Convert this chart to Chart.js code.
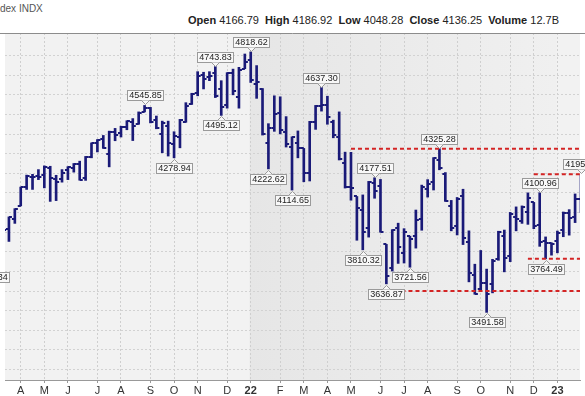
<!DOCTYPE html>
<html>
<head>
<meta charset="utf-8">
<title>S&amp;P 500 weekly bars</title>
<script src="https://cdn.jsdelivr.net/npm/chart.js@4.4.1/dist/chart.umd.min.js"></script>
<style>
  html, body { margin: 0; padding: 0; background: #fff; width: 585px; height: 396px; overflow: hidden;
               font-family: "Liberation Sans", Arial, sans-serif; }
  #title { position: absolute; left: 0; top: 3px; font-size: 10px; color: #555; }
  #quote { position: absolute; left: 188px; top: 14px; font-size: 11px; color: #222; white-space: nowrap; }
  #wrap  { position: absolute; left: 0; top: 28px; width: 585px; height: 368px; }
</style>
</head>
<body>
<div id="title">dex INDX</div>
<div id="quote"><b>Open</b> 4166.79&nbsp; <b>High</b> 4186.92&nbsp; <b>Low</b> 4048.28&nbsp; <b>Close</b> 4136.25&nbsp; <b>Volume</b> 12.7B</div>
<div id="wrap"><canvas id="chart" width="585" height="368"></canvas></div>

<script>
// -------------------------
// Data: weekly bars, week 0 = week of 1 Mar 2021
// -------------------------
const opens = [
    3842, 3844, 3942, 3916, 3969, 4034, 4128, 4179, 4185, 4192,
    4229, 4169, 4170, 4216, 4229, 4248, 4174, 4284, 4356, 4373,
    4297, 4409, 4407, 4437, 4462, 4450, 4514, 4535, 4474, 4402,
    4442, 4348, 4385, 4463, 4553, 4611, 4702, 4689, 4712, 4628,
    4548, 4710, 4588, 4733, 4778, 4655, 4632, 4357, 4432, 4505,
    4412, 4332, 4354, 4327, 4202, 4462, 4541, 4547, 4462, 4385,
    4255, 4130, 4082, 4013, 3920, 4151, 4134, 3838, 3716, 3920,
    3792, 3880, 3883, 3966, 4120, 4155, 4270, 4196, 4034, 3930,
    4084, 3849, 3682, 3610, 3643, 3638, 3762, 3881, 3780, 3978,
    3956, 4005, 4052, 3939, 3853, 3843, 3853, 3910, 3999, 3979,
    4070
];
const highs = [
    3914, 3960, 3983, 3978, 4020, 4130, 4191, 4195, 4219, 4238,
    4236, 4190, 4219, 4234, 4250, 4262, 4286, 4355, 4372, 4393,
    4415, 4429, 4440, 4468, 4479, 4513, 4545.85, 4536, 4492, 4466,
    4466, 4412, 4475, 4560, 4608, 4718, 4715, 4718, 4743.83, 4672,
    4713, 4731, 4740, 4808, 4818.62, 4749, 4632, 4453, 4595, 4590,
    4489, 4386, 4416, 4327, 4465, 4546, 4637.30, 4593, 4471, 4513,
    4308, 4307, 4082, 4090, 4159, 4177.51, 4169, 3838, 3913, 3946,
    3918, 3880, 4013, 4140, 4168, 4280, 4325.28, 4204, 4062, 4077,
    4119, 3907, 3737, 3807, 3712, 3762, 3905, 3911, 4001, 4029,
    4034, 4100.5, 4052, 4100.96, 3876, 3846, 3906, 4003, 4015, 4095,
    4195.44
];
const lows = [
    3723.34, 3817, 3885, 3853, 3945, 4034, 4118, 4118, 4168, 4126,
    4057, 4061, 4155, 4168, 4206, 4165, 4164, 4279, 4309, 4327,
    4233, 4366, 4385, 4422, 4367, 4450, 4513, 4457, 4427, 4305,
    4288, 4278.94, 4330, 4460, 4551, 4595, 4630, 4672, 4586, 4495.12,
    4532, 4600, 4532, 4733, 4663, 4582, 4395, 4222.62, 4414, 4401,
    4334, 4114.65, 4279, 4157, 4161, 4424, 4517, 4450, 4381, 4268,
    4125, 4063, 3859, 3810.32, 3875, 4073, 3900, 3636.87, 3702, 3741,
    3743, 3721.56, 3819, 3910, 4079, 4115, 4218, 4057, 3907, 3886,
    3837, 3647, 3584, 3604, 3491.58, 3591, 3757, 3698, 3750, 3907,
    3945, 3940, 3918, 3828, 3764.49, 3783, 3795, 3877, 3885, 3949,
    4000
];
const closes = [
    3841, 3943, 3913, 3975, 4020, 4129, 4185, 4180, 4181, 4232,
    4174, 4156, 4204, 4230, 4247, 4166, 4281, 4352, 4370, 4327,
    4412, 4395, 4437, 4468, 4441, 4509, 4535, 4459, 4433, 4455,
    4357, 4391, 4471, 4545, 4605, 4698, 4683, 4698, 4595, 4538,
    4712, 4621, 4726, 4766, 4677, 4663, 4398, 4432, 4501, 4419,
    4349, 4385, 4329, 4204, 4463, 4543, 4546, 4488, 4393, 4272,
    4132, 4123, 4023, 3901, 4158, 4109, 3901, 3675, 3912, 3825,
    3899, 3863, 3962, 4130, 4145, 4280, 4228, 4057, 3924, 4067,
    3873, 3693, 3586, 3640, 3583, 3752, 3901, 3771, 3993, 3965,
    4026, 4072, 3934, 3852, 3845, 3840, 3895, 3999, 3973, 4071,
    4136
];

// month ticks (week index of first bar of each month)
const monthTickWeeks  = [5, 9, 13, 18, 22, 27, 31, 35, 40, 44, 49, 53, 57, 61, 66, 70, 74, 79, 83, 88, 92, 96];
const monthTickLabels = ['A', 'M', 'J', 'J', 'A', 'S', 'O', 'N', 'D', '22', 'F', 'M', 'A', 'M', 'J', 'J', 'A', 'S', 'O', 'N', 'D', '23'];
const priceGrid = [3200, 3300, 3400, 3500, 3600, 3700, 3800, 3900, 4000, 4100, 4200, 4300, 4400, 4500, 4600, 4700, 4800];
const yearStartWeeks = [44, 96];

// price notes on swing highs / lows
const noteWeeks  = [0, 26, 31, 38, 39, 44, 47, 51, 56, 63, 65, 67, 71, 76, 84, 93, 94, 100];
const noteValues = [3723.34, 4545.85, 4278.94, 4743.83, 4495.12, 4818.62, 4222.62, 4114.65, 4637.30,
                    3810.32, 4177.51, 3636.87, 3721.56, 4325.28, 3491.58, 4100.96, 3764.49, 4195.44];
const noteSides  = ['low', 'high', 'low', 'high', 'low', 'high', 'low', 'low', 'high',
                    'low', 'high', 'low', 'low', 'high', 'low', 'high', 'low', 'high'];

// red dashed support / resistance levels
const levelValues     = [4325.28, 4195.44, 3764.49, 3600];
const levelStartWeeks = [61, 92, 91, 66];
const levelEndWeek = 104;

const BAR_COLOR = '#1a1a78';
const FONT = '"Liberation Sans", Arial, sans-serif';

document.addEventListener('DOMContentLoaded', () => {

    // -------------------------
    // open / close tick images
    // -------------------------
    function tickMark(side) {
        const c = document.createElement('canvas');
        c.width = 12;
        c.height = 2;
        const g = c.getContext('2d');
        g.fillStyle = BAR_COLOR;
        g.fillRect(side === 'left' ? 3 : 6, 0, 3, 2);
        return c;
    }

    const weeks = opens.map((_, i) => i);

    // -------------------------
    // plugins
    // -------------------------
    const shadePlugin = {
        id: 'shade',
        beforeDraw(chart) {
            const { ctx, chartArea: a, scales: { x } } = chart;
            ctx.save();
            ctx.fillStyle = '#f2f2f2';
            ctx.fillRect(a.left, a.top, a.width, a.height);
            const x0 = x.getPixelForValue(yearStartWeeks[0]) - 1;
            const x1 = x.getPixelForValue(yearStartWeeks[1]) - 1;
            const g = ctx.createLinearGradient(x0, 0, x1, 0);
            g.addColorStop(0, '#e6e6e6');
            g.addColorStop(1, '#f0f0f0');
            ctx.fillStyle = g;
            ctx.fillRect(x0, a.top, x1 - x0, a.height);
            ctx.restore();
        },
        afterDraw(chart) {
            const { ctx, chartArea: a } = chart;
            ctx.save();
            ctx.strokeStyle = '#8c8c8c';
            ctx.lineWidth = 1;
            ctx.beginPath();
            ctx.moveTo(0, a.top + 0.5);
            ctx.lineTo(chart.width, a.top + 0.5);
            ctx.stroke();
            ctx.restore();
        }
    };

    const notePlugin = {
        id: 'notes',
        afterDatasetsDraw(chart) {
            const { ctx, scales: { x, y } } = chart;
            ctx.save();
            ctx.font = '9px ' + FONT;
            ctx.textAlign = 'center';
            ctx.textBaseline = 'middle';
            ctx.lineWidth = 1;
            noteWeeks.forEach((w, i) => {
                const px = Math.round(x.getPixelForValue(w));
                const py = y.getPixelForValue(noteValues[i]);
                const text = noteValues[i].toFixed(2);
                const bw = Math.ceil(ctx.measureText(text).width) + 3;
                const bh = 10;
                const up = noteSides[i] === 'high';
                const top = Math.round(up ? py - 5 - bh : py + 5);
                const left = Math.round(px - bw / 2);

                ctx.fillStyle = '#f8f8f8';
                ctx.strokeStyle = '#9a9a9a';
                ctx.fillRect(left + 0.5, top + 0.5, bw, bh);
                ctx.strokeRect(left + 0.5, top + 0.5, bw, bh);

                // little caret pointing at the bar
                ctx.beginPath();
                if (up) {
                    ctx.moveTo(px - 3.5, top + bh + 0.5);
                    ctx.lineTo(px + 0.5, top + bh + 4.5);
                    ctx.lineTo(px + 4.5, top + bh + 0.5);
                } else {
                    ctx.moveTo(px - 3.5, top + 0.5);
                    ctx.lineTo(px + 0.5, top - 3.5);
                    ctx.lineTo(px + 4.5, top + 0.5);
                }
                ctx.fill();
                ctx.stroke();

                ctx.fillStyle = '#222';
                ctx.fillText(text, left + 0.5 + bw / 2, top + bh / 2 + 1);
            });
            ctx.restore();
        }
    };

    // -------------------------
    // datasets
    // -------------------------
    const levelSets = levelValues.map((v, i) => ({
        type: 'line',
        data: [{ x: levelStartWeeks[i], y: v }, { x: levelEndWeek, y: v }],
        borderColor: '#d42424',
        borderWidth: 2,
        borderDash: [4, 3],
        pointRadius: 0,
        fill: false
    }));

    const canvas = document.getElementById('chart');
    if (!canvas) return;

    new Chart(canvas.getContext('2d'), {
        type: 'bar',
        data: {
            datasets: [
                ...levelSets,
                {
                    type: 'line',
                    data: weeks.map(i => ({ x: i, y: opens[i] })),
                    showLine: false,
                    pointStyle: tickMark('left'),
                    pointRadius: 3
                },
                {
                    type: 'line',
                    data: weeks.map(i => ({ x: i, y: closes[i] })),
                    showLine: false,
                    pointStyle: tickMark('right'),
                    pointRadius: 3
                },
                {
                    type: 'bar',
                    data: weeks.map(i => ({ x: i, y: [lows[i], highs[i]] })),
                    backgroundColor: BAR_COLOR,
                    borderWidth: 0,
                    barThickness: 2
                }
            ]
        },
        options: {
            responsive: false,
            animation: false,
            layout: { padding: 0 },
            plugins: {
                legend: { display: false },
                tooltip: { enabled: false }
            },
            scales: {
                x: {
                    type: 'linear',
                    min: 2.3333,
                    max: 99.8333,
                    offset: false,
                    grid: {
                        offset: false,
                        color: '#cfcfcf',
                        tickColor: '#999',
                        tickLength: 3
                    },
                    border: { display: true, color: '#999', dash: [2, 2] },
                    afterBuildTicks: scale => {
                        scale.ticks = monthTickWeeks.map(v => ({ value: v }));
                    },
                    afterFit: scale => { scale.height = 16; },
                    ticks: {
                        autoSkip: false,
                        maxRotation: 0,
                        padding: 1,
                        color: '#333',
                        font: ctx => ({
                            family: FONT,
                            size: 11,
                            weight: (monthTickLabels[ctx.index] || '').length === 2 ? 'bold' : 'normal'
                        }),
                        callback: (value, index) => monthTickLabels[index]
                    }
                },
                y: {
                    type: 'linear',
                    min: 3147,
                    max: 4915,
                    beginAtZero: false,
                    afterBuildTicks: scale => {
                        scale.ticks = priceGrid.map(v => ({ value: v }));
                    },
                    grid: { color: '#d2d2d2', drawTicks: false },
                    border: { display: false, dash: [2, 2] },
                    ticks: { display: false }
                }
            }
        },
        plugins: [shadePlugin, notePlugin]
    });

});
</script>
</body>
</html>
